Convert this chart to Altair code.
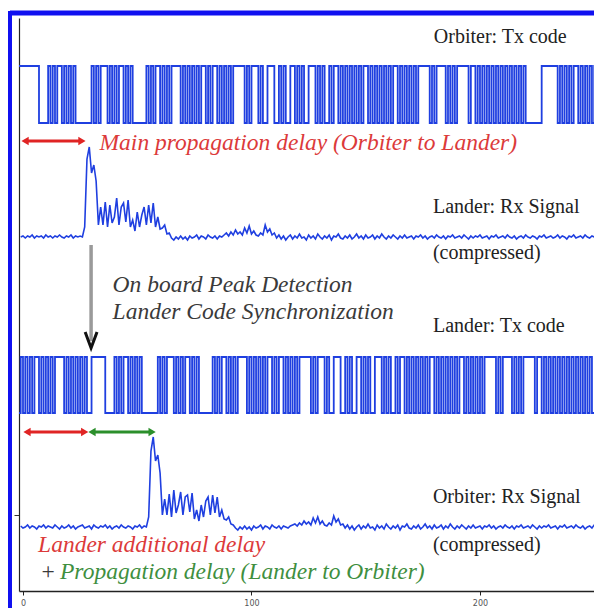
import altair as alt
import pandas as pd

# ---------------- data ----------------
X_DOMAIN = [-1.75, 249.9]
Y_DOMAIN = [0, 573]

x_ticks = [0, 100, 200]
y_ticks = [76]

code_start = -2
orbiter_tx_code = ("111111111" "0000" "1010110101010" "000000" "1010111" "01010110101" "000000"
                   "101011010101111010101010110101" "101010101" "111101011101" "001110010100"
                   "1101010011101010010110" "10101010101101010101010110101010101" "11110101111010101"
                   "1111011" "01010101010" "101010101010" "000000" "111111" "101010101101010101011")
lander_tx_code = ("0101010110" "1010101111" "0101010101" "00" "111111" "0000" "1010110101010" "000000"
                  "1010111" "01010110101" "000000" "101011010101111010101010110101" "101010101"
                  "111101011101" "001110010100" "1101010011101010010110"
                  "10101010101101010101010110101010101" "11110101111010101" "1111011" "01010101010"
                  "101010101010" "0000")
orbiter_tx_levels = [468, 525]
lander_tx_levels = [178, 234]

rx_start = -1
lander_rx_base = 354
lander_rx = ([0, 1, -1, 1, 0, 2, -1, 1, 0, 1, -1, 2, 0, 1, -1, 1, 0, 2, 0, -1, 1, 0, 2, -1, 1, 0, 1, 0] +
             [10, 78, 90, 64, 72, 56, 12, 30, 12, 35, 10, 32, 14, 20, 39, 12, 30, 34, 15, 37, 10, 17, 6, 25, 10,
              22, 30, 12, 32, 14, 34, 10, 20, 8, 9, 12, 3, 4] +
             [-1, -3, 0, -2, 1, -2, 0, -3, 1, -1, 0, 2, -2, 1, 0, -2, 2, 0, -1, 1, -2, 1, 0] +
             [2, 4, 1, 5, 2, 7, 3, 5, 2, 9, 4, 11, 3, 6, 2, 1, 4, 2, 12, 5, 8, 2, 4] +
             [-1, 2, -2, 1, -3, 0, 2, -2, 1, -1, 3, -1, 0, -3, 2, -1, 1, -2, 3, 0,
              -2, 1, -1, 2, -3, 1, 0, 3, -1, -2, 1, -1, 2, -2, 0, 3, -1, 1, -2, 2,
              -1, 0, 2, -2, 1, -1, 3, 0, -2, 1, -1, 2, 0, -2, 1, -1, 2, -1, 0, 1,
              -2, 1, 0, 2, -1, 1, -2, 0, 1, -1, 2, 0, -1, 1, -2, 1, 0, 2, -1, 0,
              1, -1, 2, 0, -2, 1, -1, 1, 0, 2, -1, 0, 1, -2, 1, 0, 2, -1, 0, 1,
              -1, 2, 0, -1, 1, -2, 0, 1, -1, 2, 0, -1, 1, 0, -2, 1, 0, 2, -1, 0,
              1, -1, 0, 2, -1, 1, 0, -2, 1, 0, 2, -1, 0, 1, -1, 2, 0, -1, 1, 0,
              -1, 1, 0])
orbiter_rx_base = 64
orbiter_rx = ([1, -1, 0, 2, -1, 1, 0, -2, 1, 0, 2, -1, 1, 0, -1, 2, 0, -2, 1, -1,
               0, 2, -1, 1, -2, 0, 1, 2, -1, 0, 1, -2, 2, 0, -1, 1, 0, 2, -1, 1,
               -2, 0, 1, -1, 2, 0, -1, 1, 0, -2, 1, 0, 2, -1, 1, 0] +
              [10, 76, 90, 66, 72, 54, 12, 28, 12, 33, 10, 37, 14, 22, 35, 12, 30, 32, 15, 34, 8, 17, 6, 22, 10,
               26, 30, 12, 32, 14, 30, 10, 17, 8, 7, 10, 3, 2] +
              [-1, -3, 0, -2, 1, -2, 0, -3, 1, -1, 0, 2, -2, 1, 0, -2, 2, 0, -1, 1, -2, 1, 0, -1, 1] +
              [2, 3, 1, 4, 2, 6, 3, 5, 2, 9, 4, 10, 3, 6, 2, 1, 4, 2, 11, 5, 8, 2, 3] +
              [-1, 2, -2, 1, -3, 0, 2, -2, 1, -1, 3, -1, 0, -3, 2, -1, 1, -2, 3, 0,
               -2, 1, -1, 2, -3, 1, 0, 3, -1, -2, 1, -1, 2, -2, 0, 3, -1, 1, -2, 2,
               -1, 0, 2, -2, 1, -1, 3, 0, -2, 1, -1, 2, 0, -2, 1, -1, 2, -1, 0, 1,
               -2, 1, 0, 2, -1, 1, -2, 0, 1, -1, 2, 0, -1, 1, -2, 1, 0, 2, -1, 0,
               1, -1, 2, 0, -2, 1, -1, 1, 0, 2, -1, 0, 1, -2, 1, 0, 2, -1, 0, 1,
               -1, 2, 0, -1, 1, -2, 0, 1, -1, 2, 0, -1, 1])

# annotations (data coordinates)
arrow_x1 = [0.9, 1.75, 30.2]
arrow_x2 = [25.8, 27.0, 56.5]
arrow_y = [450, 159, 159]
arrow_color = ["#e02424", "#e02424", "#2b8f2b"]

sync_x = [29.8]
sync_y1 = [346]
sync_y2 = [250]
head_x = [27.2, 29.8, 32.4]
head_y = [259, 243, 259]

label_text = ["Orbiter: Tx code", "Lander: Rx Signal", "(compressed)", "Lander: Tx code",
              "Orbiter: Rx Signal", "(compressed)"]
label_x = [179.8, 179.4, 179.4, 179.4, 179.4, 179.4]
label_y = [554, 384, 338, 265, 94, 46]

note_text = ["Main propagation delay (Orbiter to Lander)", "On board Peak Detection",
             "Lander Code Synchronization", "Lander additional delay", "+",
             "Propagation delay (Lander to Orbiter)"]
note_x = [33.5, 39.2, 39.2, 6.6, 7.4, 16.2]
note_y = [448, 306, 279, 46, 19, 19]
note_color = ["#dc3a3a", "#3a3a3a", "#3a3a3a", "#dc3a3a", "#3a3a3a", "#3f8f3f"]

# ---------------- tables ----------------
code_rows = []
for name, code, (lo, hi) in [("Orbiter Tx", orbiter_tx_code, orbiter_tx_levels),
                             ("Lander Tx", lander_tx_code, lander_tx_levels)]:
    for i, b in enumerate(code):
        code_rows.append({"series": name, "t": code_start + i, "v": hi if b == "1" else lo})
    code_rows.append({"series": name, "t": code_start + len(code), "v": code_rows[-1]["v"]})
codes = pd.DataFrame(code_rows)

rx_rows = []
for name, amps, base in [("Lander Rx", lander_rx, lander_rx_base),
                         ("Orbiter Rx", orbiter_rx, orbiter_rx_base)]:
    for i, a in enumerate(amps):
        rx_rows.append({"series": name, "t": rx_start + i, "v": base + a})
rx = pd.DataFrame(rx_rows)

arrows = pd.DataFrame({"x1": arrow_x1, "x2": arrow_x2, "y": arrow_y, "c": arrow_color})
sync = pd.DataFrame({"x": sync_x, "y1": sync_y1, "y2": sync_y2})
head = pd.DataFrame({"x": head_x, "y": head_y, "o": [0, 1, 2]})
labels = pd.DataFrame({"text": label_text, "x": label_x, "y": label_y})
notes = pd.DataFrame({"text": note_text, "x": note_x, "y": note_y, "c": note_color})

# ---------------- encodings ----------------
xs = alt.Scale(domain=X_DOMAIN, nice=False, zero=False)
ys = alt.Scale(domain=Y_DOMAIN, nice=False, zero=False)
xaxis = alt.Axis(values=x_ticks, title=None, grid=False, labelFontSize=8, labelColor="#555",
                 labelFont="DejaVu Sans", tickSize=4, tickColor="#222", domainColor="#222",
                 domainWidth=1.5, labelPadding=4)
yaxis = alt.Axis(values=y_ticks, title=None, grid=False, labels=False, tickSize=5,
                 tickColor="#333", domainColor="#222", domainWidth=1.2)


def X(f):
    return alt.X(f, type="quantitative", scale=xs, axis=xaxis)


def Y(f):
    return alt.Y(f, type="quantitative", scale=ys, axis=yaxis)


BLUE = "#1f3fe0"

code_layer = alt.Chart(codes).mark_line(interpolate="step-after", color=BLUE, strokeWidth=1.8,
                                        clip=True).encode(x=X("t"), y=Y("v"), detail="series:N")
rx_layer = alt.Chart(rx).mark_line(color=BLUE, strokeWidth=1.6, clip=True).encode(
    x=X("t"), y=Y("v"), detail="series:N")

arrow_line = alt.Chart(arrows).mark_rule(strokeWidth=3).encode(
    x=X("x1"), x2="x2", y=Y("y"), color=alt.Color("c:N", scale=None))
arrow_l = alt.Chart(arrows).mark_point(shape="triangle-left", filled=True, size=70, opacity=1).encode(
    x=X("x1"), y=Y("y"), color=alt.Color("c:N", scale=None))
arrow_r = alt.Chart(arrows).mark_point(shape="triangle-right", filled=True, size=70, opacity=1).encode(
    x=X("x2"), y=Y("y"), color=alt.Color("c:N", scale=None))

sync_line = alt.Chart(sync).mark_rule(strokeWidth=3.5, color="#9a9a9a").encode(
    x=X("x"), y=Y("y1"), y2="y2")
sync_head = alt.Chart(head).mark_line(strokeWidth=3, color="#111").encode(
    x=X("x"), y=Y("y"), order="o:Q")

label_layer = alt.Chart(labels).mark_text(align="left", baseline="middle", font="Liberation Serif",
                                          fontSize=20, color="#222").encode(
    x=X("x"), y=Y("y"), text="text:N")
note_layer = alt.Chart(notes).mark_text(align="left", baseline="middle", font="Liberation Serif",
                                        fontSize=23.5, fontStyle="italic").encode(
    x=X("x"), y=Y("y"), text="text:N", color=alt.Color("c:N", scale=None))

frame_top = alt.Chart(pd.DataFrame({"k": [0]})).mark_rule(color="#1010f0", strokeWidth=5).encode(
    x=alt.value(-9), x2=alt.value(600), y=alt.value(-5))
frame_left = alt.Chart(pd.DataFrame({"k": [0]})).mark_rule(color="#1010f0", strokeWidth=4).encode(
    x=alt.value(-9), y=alt.value(-7), y2=alt.value(620))

chart = alt.layer(code_layer, rx_layer, arrow_line, arrow_l, arrow_r, sync_line, sync_head,
                  label_layer, note_layer, frame_top, frame_left).properties(
    width=575, height=573,
    autosize=alt.AutoSizeParams(type="none"),
    padding={"left": 11, "top": 10, "right": 0, "bottom": 17},
    background="white",
).configure_view(strokeWidth=0)

chart.save("out.html", embed_options={"renderer": "svg", "actions": False})
